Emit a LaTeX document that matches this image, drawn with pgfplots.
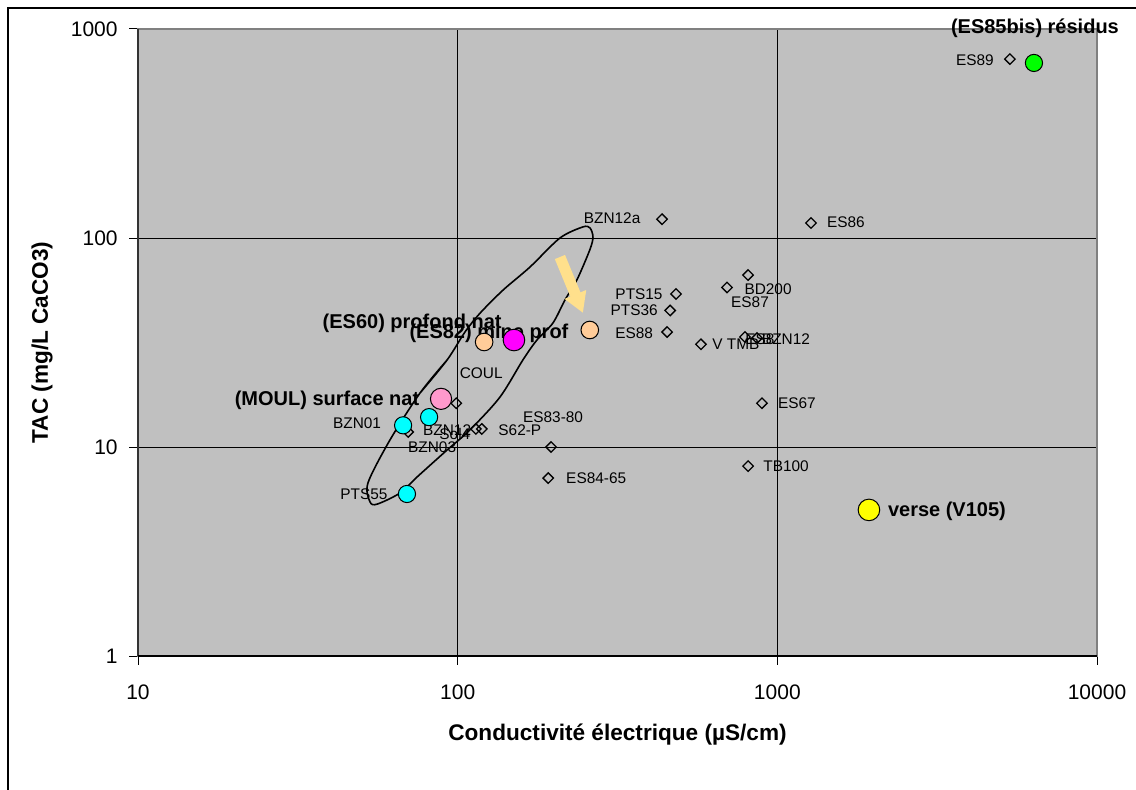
\documentclass[border=0pt]{standalone}
\usepackage{pgfplots}
\pgfplotsset{compat=1.18}
\usepackage{fontspec}
\setmainfont{Liberation Sans}
\usetikzlibrary{arrows.meta}

\definecolor{plotbg}{HTML}{C0C0C0}
\definecolor{cyanpt}{HTML}{00FFFF}
\definecolor{pinkpt}{HTML}{FF99CC}
\definecolor{magpt}{HTML}{FF00FF}
\definecolor{peachpt}{HTML}{FFCC99}
\definecolor{greenpt}{HTML}{00FF00}
\definecolor{yellowpt}{HTML}{FFFF00}
\definecolor{arrowc}{HTML}{FFE08C}

\tikzset{
  lbl/.style={font=\fontsize{7.7}{9}\selectfont, inner sep=0pt},
  blbl/.style={font=\bfseries\fontsize{10}{12}\selectfont, inner sep=0pt},
}

\begin{document}
\begin{tikzpicture}
\useasboundingbox (-69pt,-66.5pt) rectangle (499pt,328pt);
% outer chart frame
\draw[black, line width=0.7pt] (-65pt,-120pt) -- (-65pt,324pt) -- (600pt,324pt);

\begin{axis}[
  at={(0,0)}, anchor=south west,
  scale only axis, width=479.5pt, height=313.5pt,
  xmode=log, ymode=log,
  xmin=10, xmax=10000, ymin=1, ymax=1000,
  xtick={10,100,1000,10000}, xticklabels={10,100,1000,10000},
  ytick={1,10,100,1000}, yticklabels={1,10,100,1000},
  xminorticks=false, yminorticks=false,
  grid=major, major grid style={black, line width=0.5pt},
  axis background/.style={fill=plotbg},
  axis line style={draw=gray, line width=0.6pt},
  tick align=outside, xtick pos=left, ytick pos=left,
  major tick length=4.5pt, tick style={black, line width=0.5pt},
  ticklabel style={font=\fontsize{10.5}{12}\selectfont},
  xticklabel style={anchor=center, inner sep=0pt, yshift=-13.5pt},
  yticklabel style={anchor=east, inner sep=0pt, xshift=-5.5pt},
  xlabel={Conductivité électrique (µS/cm)},
  ylabel={TAC (mg/L CaCO3)},
  label style={font=\bfseries\fontsize{11.3}{13}\selectfont, inner sep=0pt},
  xlabel style={at={(axis description cs:0.5,-0.126)}, anchor=center},
  ylabel style={at={(axis description cs:-0.1001,0.5)}, anchor=center},
  clip=false,
]

% envelope of the natural waters
\addplot[black, line width=0.8pt, smooth, tension=0.5] coordinates {
  (76.2,18.1) (92.7,26.1) (105.4,35.5) (117.5,43.7) (138.6,56.3)
  (168.3,72.6) (208.9,100) (246.6,113) (259.4,111.7) (265,101)
  (259,87.7) (236,63.0) (216.6,50.5) (198.6,39.2) (177,32.5)
  (160,26.1) (135.5,17.3) (109.1,12.05) (92.7,9.68) (74.6,7.18)
  (66.1,6.03) (56.0,5.33) (53.2,5.46) (52.4,6.73) (61.4,10.8)
  (76.2,18.1) (92.7,26.1)
};

% other sampling points
\addplot[only marks, mark=square, mark size=1.85pt,
  mark options={rotate=45, draw=black, fill=none, line width=0.65pt}] coordinates {
  (5340,718) (1274,118) (436,123) (810,66.5) (696,58) (482,54) (462,45)
  (452,35.5) (577,31) (792,33.6) (864,33.2) (895,16.2) (810,8.1)
  (192,7.1) (196,10) (99,16.2) (119,12.2) (114,12.2) (70,11.8)
};

% reference waters
\addplot[only marks, mark=*, mark size=4.3pt,
  mark options={draw=black, fill=cyanpt, line width=0.5pt}] coordinates {
  (67.5,12.7) (81.4,13.9) (69.4,5.96)
};
\addplot[only marks, mark=*, mark size=5.3pt,
  mark options={draw=black, fill=pinkpt, line width=0.5pt}] coordinates {
  (88.7,17)
};
\addplot[only marks, mark=*, mark size=4.4pt,
  mark options={draw=black, fill=peachpt, line width=0.5pt}] coordinates {
  (121,31.8) (259,36.3)
};
\addplot[only marks, mark=*, mark size=5.4pt,
  mark options={draw=black, fill=magpt, line width=0.5pt}] coordinates {
  (150,32.5)
};
\addplot[only marks, mark=*, mark size=4.3pt,
  mark options={draw=black, fill=greenpt, line width=0.5pt}] coordinates {
  (6350,688)
};
\addplot[only marks, mark=*, mark size=5.4pt,
  mark options={draw=black, fill=yellowpt, line width=0.5pt}] coordinates {
  (1935,5)
};

% arrow towards the deep mine water
\draw[-{Triangle[width=11pt,length=10pt]}, line width=5.5pt, arrowc]
  (axis cs:208.9,81.1) -- (axis cs:246.6,43.8);

% point labels
\node[lbl, xshift=-17.5pt, yshift=-0.5pt] at (axis cs:5340,718) {ES89};
\node[lbl, xshift=17.5pt, yshift=0.5pt] at (axis cs:1274,118) {ES86};
\node[lbl, xshift=-25pt, yshift=0.5pt] at (axis cs:436,123) {BZN12a};
\node[lbl, xshift=10pt, yshift=-7pt] at (axis cs:810,66.5) {BD200};
\node[lbl, xshift=11.5pt, yshift=-7.5pt] at (axis cs:696,58) {ES87};
\node[lbl, xshift=-18.5pt] at (axis cs:482,54) {PTS15};
\node[lbl, xshift=-18pt] at (axis cs:462,45) {PTS36};
\node[lbl, xshift=-16.5pt, yshift=-0.5pt] at (axis cs:452,35.5) {ES88};
\node[lbl, xshift=17.5pt] at (axis cs:577,31) {V TMB};
\node[lbl, xshift=7.5pt, yshift=-1pt] at (axis cs:792,33.6) {ES8};
\node[lbl, xshift=20.5pt, yshift=-1pt] at (axis cs:792,33.6) {BZN12};
\node[lbl, xshift=17.5pt] at (axis cs:895,16.2) {ES67};
\node[lbl, xshift=19pt] at (axis cs:810,8.1) {TB100};
\node[lbl, xshift=24pt] at (axis cs:192,7.1) {ES84-65};
\node[lbl, xshift=1pt, yshift=15pt] at (axis cs:196,10) {ES83-80};
\node[lbl, xshift=12.5pt, yshift=15pt] at (axis cs:99,16.2) {COUL};
\node[lbl, xshift=19pt, yshift=-0.5pt] at (axis cs:119,12.2) {S62-P};
\node[lbl, xshift=-10.5pt, yshift=-2.5pt] at (axis cs:114,12.2) {Sol4};
\node[lbl, xshift=19.5pt, yshift=1pt] at (axis cs:70,11.8) {BZN12};
\node[lbl, xshift=12pt, yshift=-7.5pt] at (axis cs:70,11.8) {BZN03};
\node[lbl, xshift=-23pt, yshift=1pt] at (axis cs:67.5,12.7) {BZN01};
\node[lbl, xshift=-21.5pt] at (axis cs:69.4,5.96) {PTS55};

\node[blbl, xshift=-57pt, yshift=-0.5pt] at (axis cs:88.7,17) {(MOUL) surface nat};
\node[blbl, xshift=-36pt, yshift=9.5pt] at (axis cs:121,31.8) {(ES60) profond nat};
\node[blbl, xshift=-12.5pt, yshift=3.5pt] at (axis cs:150,32.5) {(ES82) mine prof};
\node[blbl, xshift=39pt, yshift=-0.5pt] at (axis cs:1935,5) {verse (V105)};
\node[blbl, xshift=0.5pt, yshift=17.5pt] at (axis cs:6350,688) {(ES85bis) résidus};

% axis lines at left and bottom
\draw[black!80, line width=0.6pt] (rel axis cs:0,0) -- (rel axis cs:0,1);
\draw[black, line width=1pt] (rel axis cs:0,0) -- (rel axis cs:1,0);
\end{axis}
\end{tikzpicture}
\end{document}
